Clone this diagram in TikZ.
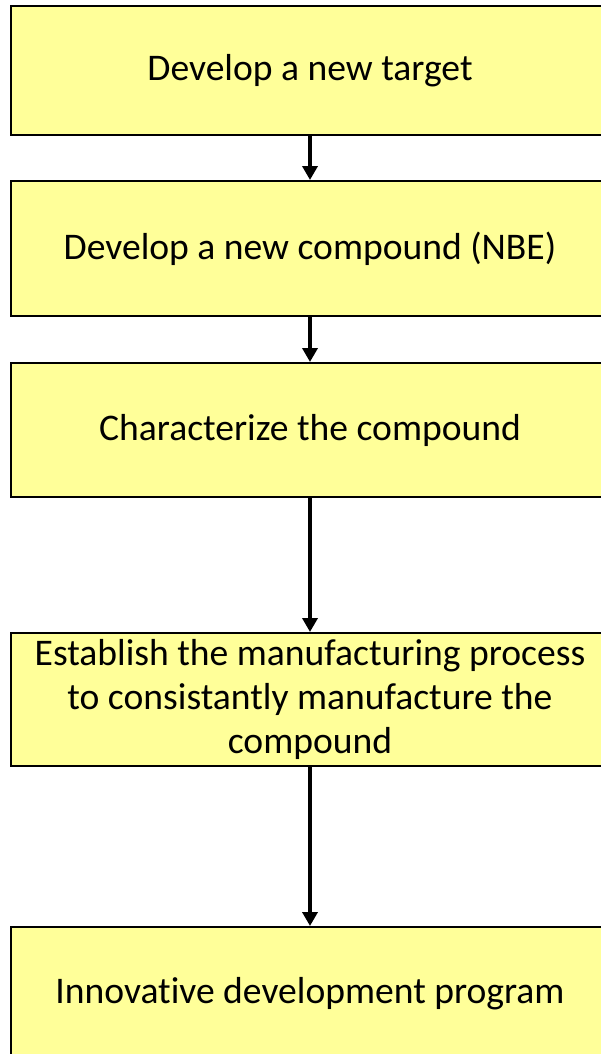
\documentclass[tikz,border=0pt]{standalone}
\usepackage{fontspec}
\setmainfont{Carlito}[Ligatures=NoCommon]
\usetikzlibrary{arrows.meta}
\definecolor{boxfill}{HTML}{FFFF99}
\tikzset{
  stepbox/.style={draw=black, line width=2pt, fill=boxfill, minimum width=598pt,
    minimum height=133pt, inner sep=0pt, align=center,
    font=\fontsize{37.6}{44}\selectfont},
  flowarrow/.style={line width=3.5pt, -{Triangle[width=15pt,length=14pt]}}
}
\begin{document}
\begin{tikzpicture}[x=1pt,y=1pt]
\useasboundingbox (0,0) rectangle (601,-1054);
\clip (0,0) rectangle (601,-1054);
\fill[white] (0,0) rectangle (601,-1054);
\node[stepbox, minimum height=129pt] (b1) at (310,-70.5) {Develop a new target};
\node[stepbox, minimum height=135pt] (b2) at (310,-248.5) {Develop a new compound (NBE)};
\node[stepbox, minimum height=134pt] (b3) at (310,-430) {Characterize the compound};
\node[stepbox] (b4) at (310,-699.5) {Establish the manufacturing process\\to consistantly manufacture the\\compound};
\node[stepbox] (b5) at (310,-993.5) {Innovative development program};
\draw[flowarrow] (b1.south) -- (b2.north);
\draw[flowarrow] (b2.south) -- (b3.north);
\draw[flowarrow] (b3.south) -- (b4.north);
\draw[flowarrow] (b4.south) -- (b5.north);
\end{tikzpicture}
\end{document}
